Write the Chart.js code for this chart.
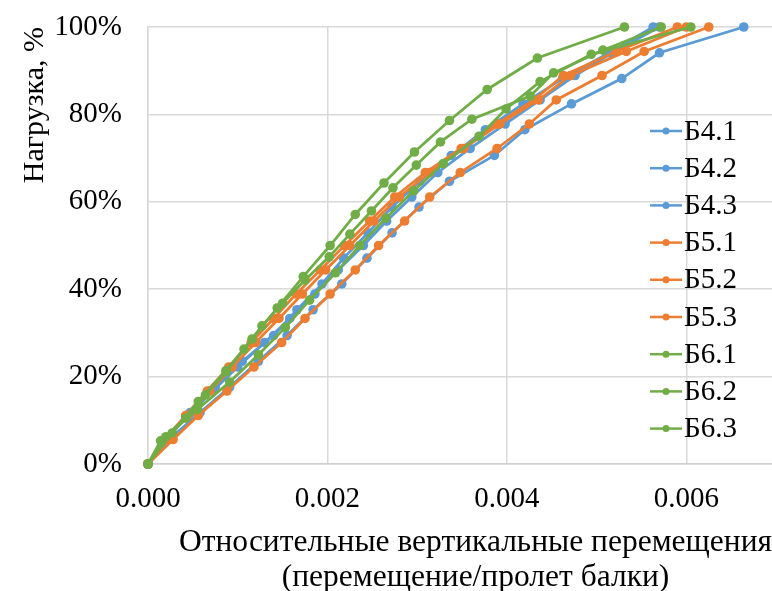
<!DOCTYPE html>
<html>
<head>
<meta charset="utf-8">
<script src="https://cdn.jsdelivr.net/npm/chart.js@4.4.0/dist/chart.umd.min.js"></script>
<style>
  html, body { margin: 0; padding: 0; background: #fff; overflow: hidden; }
  canvas { display: block; }
</style>
</head>
<body>
<canvas id="loadChart" width="810" height="596"></canvas>
<script>
// load steps (% of ultimate), per group
const loadsB4a = [0, 5.9, 11.8, 17.6, 23.5, 29.4, 35.3, 41.2, 47.1, 52.9, 58.8, 64.7, 70.6, 76.5, 82.4, 88.2, 94.1, 100];
const loadsB5 = [0, 5.6, 11.1, 16.7, 22.2, 27.8, 33.3, 38.9, 44.4, 50, 55.6, 61.1, 66.7, 72.2, 77.8, 83.3, 88.9, 94.4, 100];
const loadsB61 = [0, 7.1, 14.3, 21.4, 28.6, 35.7, 42.9, 50, 57.1, 64.3, 71.4, 78.6, 85.7, 92.9, 100];
const loadsB62 = [0, 5.3, 10.5, 15.8, 21.1, 26.3, 31.6, 36.8, 42.1, 47.4, 52.6, 57.9, 63.2, 68.4, 73.7, 78.9, 84.2, 89.5, 94.7, 100];
const loadsB63 = [0, 6.25, 12.5, 18.75, 25, 31.25, 37.5, 43.75, 50, 56.25, 62.5, 68.75, 75, 81.25, 87.5, 93.75, 100];

// relative deflections (deflection / span)
const defB41 = [0, 0.00025, 0.00058, 0.00091, 0.00123, 0.00155, 0.00184, 0.00216, 0.00244, 0.00272, 0.00302, 0.00336, 0.00386, 0.00420, 0.00472, 0.00528, 0.00570, 0.00664];
const defB42 = [0, 0.00020, 0.00047, 0.00075, 0.00105, 0.00140, 0.00166, 0.00194, 0.00218, 0.00245, 0.00272, 0.00303, 0.00338, 0.00376, 0.00418, 0.00462, 0.00514, 0.00563];
const defB43 = [0, 0.00020, 0.00045, 0.00072, 0.00100, 0.00130, 0.00158, 0.00186, 0.00212, 0.00240, 0.00266, 0.00294, 0.00323, 0.00359, 0.00398, 0.00437, 0.00476, 0.00520, 0.00570];
const defB51 = [0, 0.00028, 0.00056, 0.00088, 0.00118, 0.00149, 0.00175, 0.00203, 0.00231, 0.00257, 0.00286, 0.00314, 0.00348, 0.00389, 0.00425, 0.00455, 0.00506, 0.00553, 0.00625];
const defB52 = [0, 0.00018, 0.00042, 0.00066, 0.00090, 0.00115, 0.00140, 0.00165, 0.00192, 0.00219, 0.00247, 0.00275, 0.00309, 0.00349, 0.00389, 0.00430, 0.00463, 0.00522, 0.00590];
const defB53 = [0, 0.00020, 0.00044, 0.00069, 0.00094, 0.00120, 0.00146, 0.00172, 0.00198, 0.00225, 0.00252, 0.00280, 0.00314, 0.00352, 0.00392, 0.00435, 0.00471, 0.00533, 0.00600];
const defB61 = [0, 0.00027, 0.00056, 0.00087, 0.00116, 0.00144, 0.00173, 0.00203, 0.00231, 0.00263, 0.00297, 0.00336, 0.00378, 0.00434, 0.00531];
const defB62 = [0, 0.00014, 0.00042, 0.00064, 0.00087, 0.00107, 0.00127, 0.00150, 0.00175, 0.00202, 0.00225, 0.00249, 0.00273, 0.00299, 0.00326, 0.00361, 0.00426, 0.00452, 0.00507, 0.00572];
const defB63 = [0, 0.00020, 0.00055, 0.00091, 0.00123, 0.00153, 0.00180, 0.00209, 0.00236, 0.00265, 0.00296, 0.00329, 0.00369, 0.00399, 0.00437, 0.00494, 0.00605];

const seriesNames = ['Б4.1', 'Б4.2', 'Б4.3', 'Б5.1', 'Б5.2', 'Б5.3', 'Б6.1', 'Б6.2', 'Б6.3'];
const xTicks = [0, 0.002, 0.004, 0.006];
const yTicks = [0, 20, 40, 60, 80, 100];

const BLUE = '#5b9bd5', ORANGE = '#ed7d31', GREEN = '#70ad47';
const FONT = '"Liberation Serif", "Times New Roman", serif';

const series = [
  [defB41, loadsB4a, BLUE], [defB42, loadsB4a, BLUE], [defB43, loadsB5, BLUE],
  [defB51, loadsB5, ORANGE], [defB52, loadsB5, ORANGE], [defB53, loadsB5, ORANGE],
  [defB61, loadsB61, GREEN], [defB62, loadsB62, GREEN], [defB63, loadsB63, GREEN]
];

const datasets = series.map(([xs, ys, color], i) => ({
  label: seriesNames[i],
  data: xs.map((x, j) => ({ x: x, y: ys[j] })),
  borderColor: color,
  backgroundColor: color,
  pointBackgroundColor: color,
  pointBorderWidth: 0,
  pointRadius: 4.8,
  borderWidth: 2.75,
  showLine: true,
  clip: false,
  order: series.length - i
}));

// legend drawn inside the plot area, like the original
const insideLegend = {
  id: 'insideLegend',
  afterDatasetsDraw(chart) {
    const ctx = chart.ctx;
    ctx.save();
    ctx.font = '29px ' + FONT;
    ctx.textBaseline = 'middle';
    ctx.textAlign = 'left';
    chart.data.datasets.forEach((ds, i) => {
      const y = 131 + i * 37.2;
      ctx.strokeStyle = ds.borderColor;
      ctx.lineWidth = 2.5;
      ctx.beginPath();
      ctx.moveTo(650, y);
      ctx.lineTo(682, y);
      ctx.stroke();
      ctx.fillStyle = ds.borderColor;
      ctx.beginPath();
      ctx.arc(666, y, 3.5, 0, Math.PI * 2);
      ctx.fill();
      ctx.fillStyle = '#000';
      ctx.fillText(ds.label, 684, y + 1);
    });
    ctx.restore();
  }
};

new Chart(document.getElementById('loadChart').getContext('2d'), {
  type: 'scatter',
  data: { datasets: datasets },
  plugins: [insideLegend],
  options: {
    responsive: false,
    animation: false,
    layout: { padding: { top: 27, right: 7, left: 0, bottom: 0 } },
    plugins: {
      legend: { display: false },
      tooltip: { enabled: false }
    },
    scales: {
      x: {
        type: 'linear',
        min: 0,
        max: 0.0073,
        afterFit(scale) { scale.height = 132; },
        afterBuildTicks(scale) { scale.ticks = xTicks.map(v => ({ value: v })); },
        ticks: {
          padding: 18,
          color: '#000',
          font: { family: FONT, size: 29 },
          callback: v => v.toFixed(3)
        },
        grid: { color: '#d9d9d9', lineWidth: 1.5, drawTicks: false },
        border: { color: '#d0d0d0', width: 1.5 },
        title: {
          display: true,
          text: ['Относительные вертикальные перемещения', '(перемещение/пролет балки)'],
          color: '#000',
          font: { family: FONT, size: 31.5, lineHeight: 1.1 },
          padding: { top: 0, bottom: 1 }
        }
      },
      y: {
        min: 0,
        max: 100,
        afterFit(scale) {
          scale.width = 148;
          scale.paddingTop = 0;
          scale.paddingBottom = 0;
        },
        afterBuildTicks(scale) { scale.ticks = yTicks.map(v => ({ value: v })); },
        ticks: {
          padding: 26,
          color: '#000',
          font: { family: FONT, size: 29 },
          callback: v => v + '%'
        },
        grid: { color: '#d9d9d9', lineWidth: 1.5, drawTicks: false },
        border: { color: '#d9d9d9', width: 1.5 },
        title: {
          display: true,
          text: 'Нагрузка, %',
          align: 'end',
          color: '#000',
          font: { family: FONT, size: 30, lineHeight: 1.2 },
          padding: { top: 17, bottom: 0 }
        }
      }
    }
  }
});
</script>
</body>
</html>
